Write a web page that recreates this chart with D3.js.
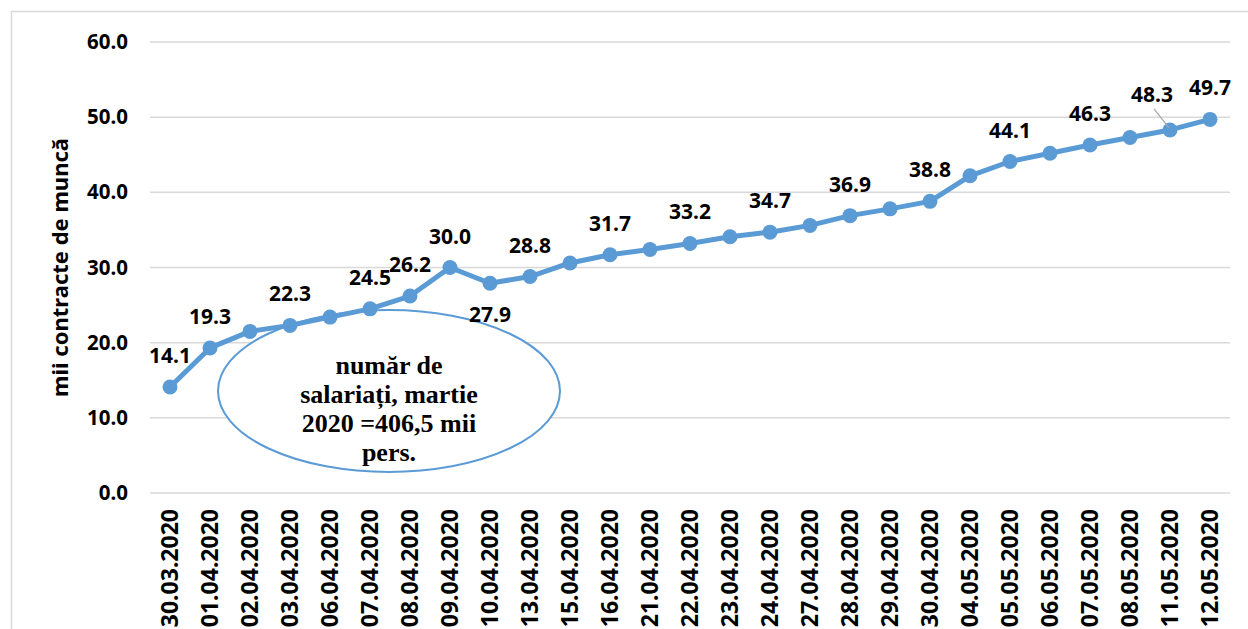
<!DOCTYPE html>
<html>
<head>
<meta charset="utf-8">
<script src="https://cdn.jsdelivr.net/npm/d3@7"></script>
<style>
  body { margin: 0; background: #fff; }
  svg text { font-family: "Noto Sans", "Liberation Sans", sans-serif; font-weight: bold; }
</style>
</head>
<body>
<div id="chart"></div>
<script>
// Chart data
const dates = ['30.03.2020', '01.04.2020', '02.04.2020', '03.04.2020', '06.04.2020', '07.04.2020',
  '08.04.2020', '09.04.2020', '10.04.2020', '13.04.2020', '15.04.2020', '16.04.2020', '21.04.2020',
  '22.04.2020', '23.04.2020', '24.04.2020', '27.04.2020', '28.04.2020', '29.04.2020', '30.04.2020',
  '04.05.2020', '05.05.2020', '06.05.2020', '07.05.2020', '08.05.2020', '11.05.2020', '12.05.2020'];
const contracts = [14.1, 19.3, 21.5, 22.3, 23.4, 24.5, 26.2, 30.0, 27.9, 28.8, 30.6, 31.7, 32.4,
  33.2, 34.1, 34.7, 35.6, 36.9, 37.8, 38.8, 42.2, 44.1, 45.2, 46.3, 47.3, 48.3, 49.7];
// which points carry a value label, and where ('above' / 'below' / 'leader')
const labelled = { 0: 'above', 1: 'above', 3: 'above', 5: 'above', 6: 'above', 7: 'above', 8: 'below',
  9: 'above', 11: 'above', 13: 'above', 15: 'above', 17: 'above', 19: 'above', 21: 'above',
  23: 'above', 25: 'leader', 26: 'above' };
const yTicks = [0, 10, 20, 30, 40, 50, 60];
const yTitle = 'mii contracte de muncă';
const noteLines = ['număr de', 'salariați, martie', '2020 =406,5 mii', 'pers.'];

const width = 1248;
const height = 629;
const margin = { top: 42, right: 18, bottom: 136, left: 150 };
const blue = '#5b9bd5';

const svg = d3.select('#chart').append('svg')
  .attr('width', width)
  .attr('height', height);

// outer chart border
svg.append('rect')
  .attr('x', 11.5).attr('y', 11.5)
  .attr('width', width).attr('height', height)
  .attr('fill', 'none')
  .attr('stroke', '#d9d9d9')
  .attr('stroke-width', 1.5);

const x = d3.scaleBand()
  .domain(dates)
  .range([margin.left, width - margin.right]);

const y = d3.scaleLinear()
  .domain([0, 60])
  .range([height - margin.bottom, margin.top]);

const cx = d => x(d) + x.bandwidth() / 2;

// gridlines
svg.append('g')
  .selectAll('line')
  .data(yTicks)
  .join('line')
  .attr('x1', margin.left)
  .attr('x2', width - margin.right)
  .attr('y1', d => y(d))
  .attr('y2', d => y(d))
  .attr('stroke', '#d9d9d9')
  .attr('stroke-width', 1.5);

// y axis labels
const yAxis = svg.append('g')
  .attr('transform', `translate(${margin.left - 22},0)`)
  .call(d3.axisLeft(y).tickValues(yTicks).tickFormat(d3.format('.1f')).tickSize(0).tickPadding(0));
yAxis.select('.domain').remove();
yAxis.selectAll('text')
  .attr('font-size', 20.5)
  .attr('fill', '#000')
  .style('font-family', '"Noto Sans", sans-serif')
  .style('font-weight', 'bold');

// y axis title
svg.append('text')
  .attr('transform', `translate(68,${(y(0) + y(60)) / 2}) rotate(-90)`)
  .attr('text-anchor', 'middle')
  .attr('font-size', 22)
  .text(yTitle);

// x axis labels
const xAxis = svg.append('g')
  .attr('transform', `translate(0,${y(0) + 16})`)
  .call(d3.axisBottom(x).tickSize(0).tickPadding(0));
xAxis.select('.domain').remove();
xAxis.selectAll('text')
  .attr('font-size', 23)
  .attr('fill', '#000')
  .attr('transform', 'rotate(-90)')
  .attr('text-anchor', 'end')
  .attr('x', 0)
  .attr('y', 0)
  .attr('dy', '0.35em')
  .style('font-family', '"Noto Sans", sans-serif')
  .style('font-weight', 'bold');

// note ellipse
const note = svg.append('g');
note.append('ellipse')
  .attr('cx', 389).attr('cy', 391)
  .attr('rx', 171).attr('ry', 81)
  .attr('fill', '#fff')
  .attr('stroke', blue)
  .attr('stroke-width', 2);
note.selectAll('text')
  .data(noteLines)
  .join('text')
  .attr('x', 389)
  .attr('y', (d, i) => 374 + i * 29)
  .attr('text-anchor', 'middle')
  .attr('font-size', 26)
  .style('font-family', '"Liberation Serif", "Times New Roman", serif')
  .text(d => d);

// line and markers
const line = d3.line()
  .x((d, i) => cx(dates[i]))
  .y(d => y(d));

svg.append('path')
  .datum(contracts)
  .attr('fill', 'none')
  .attr('stroke', blue)
  .attr('stroke-width', 5)
  .attr('stroke-linejoin', 'round')
  .attr('d', line);

svg.append('g')
  .selectAll('circle')
  .data(contracts)
  .join('circle')
  .attr('cx', (d, i) => cx(dates[i]))
  .attr('cy', d => y(d))
  .attr('r', 7.5)
  .attr('fill', blue);

// value labels
const labels = contracts.map((v, i) => ({ v, i, pos: labelled[i] })).filter(d => d.pos);

svg.append('g')
  .selectAll('line')
  .data(labels.filter(d => d.pos === 'leader'))
  .join('line')
  .attr('x1', d => cx(dates[d.i]) - 16)
  .attr('y1', d => y(d.v) - 21)
  .attr('x2', d => cx(dates[d.i]) - 1)
  .attr('y2', d => y(d.v) - 2)
  .attr('stroke', '#a6a6a6')
  .attr('stroke-width', 1.2);

svg.append('g')
  .selectAll('text')
  .data(labels)
  .join('text')
  .attr('x', d => cx(dates[d.i]) + (d.pos === 'leader' ? -18 : 0))
  .attr('y', d => y(d.v) + (d.pos === 'below' ? 39 : d.pos === 'leader' ? -28 : -24))
  .attr('text-anchor', 'middle')
  .attr('font-size', 21)
  .attr('fill', '#000')
  .text(d => d.v.toFixed(1));
</script>
</body>
</html>
